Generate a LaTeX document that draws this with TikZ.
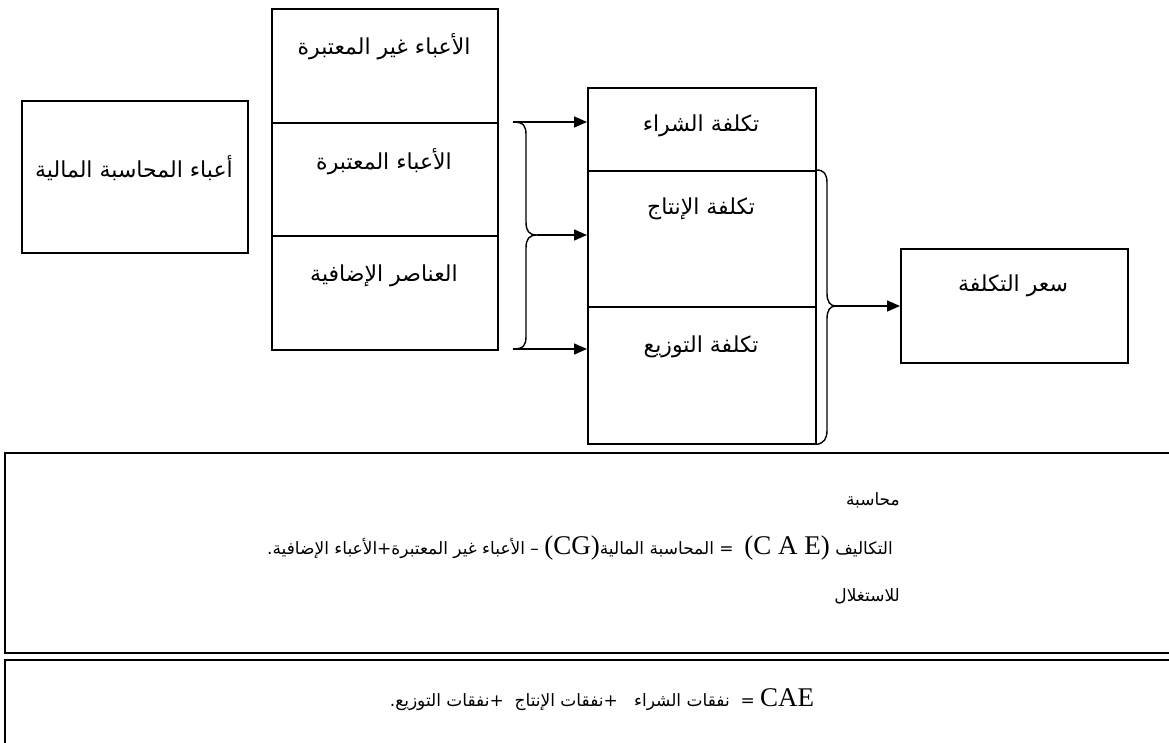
\documentclass[tikz,border=0pt]{standalone}
\usepackage{fontspec}
\setmainfont{Liberation Serif}
\newfontfamily\arabicfont[Script=Arabic]{DejaVu Sans}
\TeXXeTstate=1
\usetikzlibrary{arrows.meta}
\newcommand{\artxt}[1]{{\arabicfont\beginR #1\endR}}
\newcommand{\lat}[1]{\beginL{\rmfamily\fontsize{27}{29}\selectfont #1}\endL{}}
\begin{document}
\begin{tikzpicture}[x=1pt,y=-1pt,
  box/.style={draw, line width=1.5pt, inner sep=0pt, anchor=north west},
  bigbox/.style={draw, line width=2.4pt, inner sep=0pt, anchor=north west},
  lbl/.style={font=\fontsize{22}{26}\selectfont, inner sep=0pt},
  small/.style={font=\fontsize{17}{21}\selectfont, inner sep=0pt},
  arr/.style={line width=1.5pt, -{Triangle[length=13pt,width=11pt]}},
  brace/.style={line width=1.4pt}]
\useasboundingbox (0,0) rectangle (1169,742);
% boxes
\node[box, minimum width=226pt, minimum height=152pt] (A) at (21,100) {};
\node[box, minimum width=226pt, minimum height=114pt] (M1) at (271,8) {};
\node[box, minimum width=226pt, minimum height=113pt] (M2) at (271,122) {};
\node[box, minimum width=226pt, minimum height=114pt] (M3) at (271,235) {};
\node[box, minimum width=228pt, minimum height=83pt] (R1) at (587,87) {};
\node[box, minimum width=228pt, minimum height=136pt] (R2) at (587,170) {};
\node[box, minimum width=228pt, minimum height=137pt] (R3) at (587,306) {};
\node[box, minimum width=227pt, minimum height=114pt] (S) at (900,248) {};
\node[bigbox, minimum width=1190pt, minimum height=200pt] (B1) at (4,452) {};
\node[bigbox, minimum width=1190pt, minimum height=120pt] (B2) at (4,659) {};
% labels
\node[lbl] (tA) at (134,168) {\artxt{أعباء المحاسبة المالية}};
\node[lbl] (tM1) at (384,47) {\artxt{الأعباء غير المعتبرة}};
\node[lbl] (tM2) at (384,162) {\artxt{الأعباء المعتبرة}};
\node[lbl] (tM3) at (384,276) {\artxt{العناصر الإضافية}};
\node[lbl] (tR1) at (701,126) {\artxt{تكلفة الشراء}};
\node[lbl] (tR2) at (701,209) {\artxt{تكلفة الإنتاج}};
\node[lbl] (tR3) at (701,347) {\artxt{تكلفة التوزيع}};
\node[lbl] (tS) at (1013,286) {\artxt{سعر التكلفة}};
% bottom texts
\node[small, anchor=east] (l1) at (900,500) {\artxt{محاسبة}};
\node[small, anchor=east] (l2) at (893,548) {\artxt{التكاليف \lat{(C A E)}\ \ = المحاسبة المالية\lat{(CG)} – الأعباء غير المعتبرة+الأعباء الإضافية.}};
\node[small, anchor=east] (l3) at (900,596) {\artxt{للاستغلال}};
\node[small] (l4) at (602,700) {\artxt{\lat{CAE} = \ نفقات الشراء \ \ +نفقات الإنتاج \ +نفقات التوزيع.}};
% left brace
\coordinate (bt) at (513,122);
\coordinate (bm) at (537,235);
\coordinate (bb) at (513,349);
\draw[brace] (bt) .. controls (524,122) and (526,126) .. (526,135) -- (526,222)
  .. controls (526,231) and (529,235) .. (bm)
  .. controls (529,235) and (526,239) .. (526,248) -- (526,336)
  .. controls (526,345) and (524,349) .. (bb);
\draw[arr] (bt) -- (bt -| R1.west);
\draw[arr] (bm) -- (bm -| R2.west);
\draw[arr] (bb) -- (bb -| R3.west);
% right brace
\coordinate (rt) at (836,306);
\draw[brace] (R2.north east) .. controls (824,170) and (827,174) .. (827,183) -- (827,293)
  .. controls (827,302) and (830,306) .. (rt)
  .. controls (830,306) and (827,310) .. (827,319) -- (827,430)
  .. controls (827,439) and (824,443) .. (R3.south east);
\draw[arr] (rt) -- (rt -| S.west);
\end{tikzpicture}
\end{document}
